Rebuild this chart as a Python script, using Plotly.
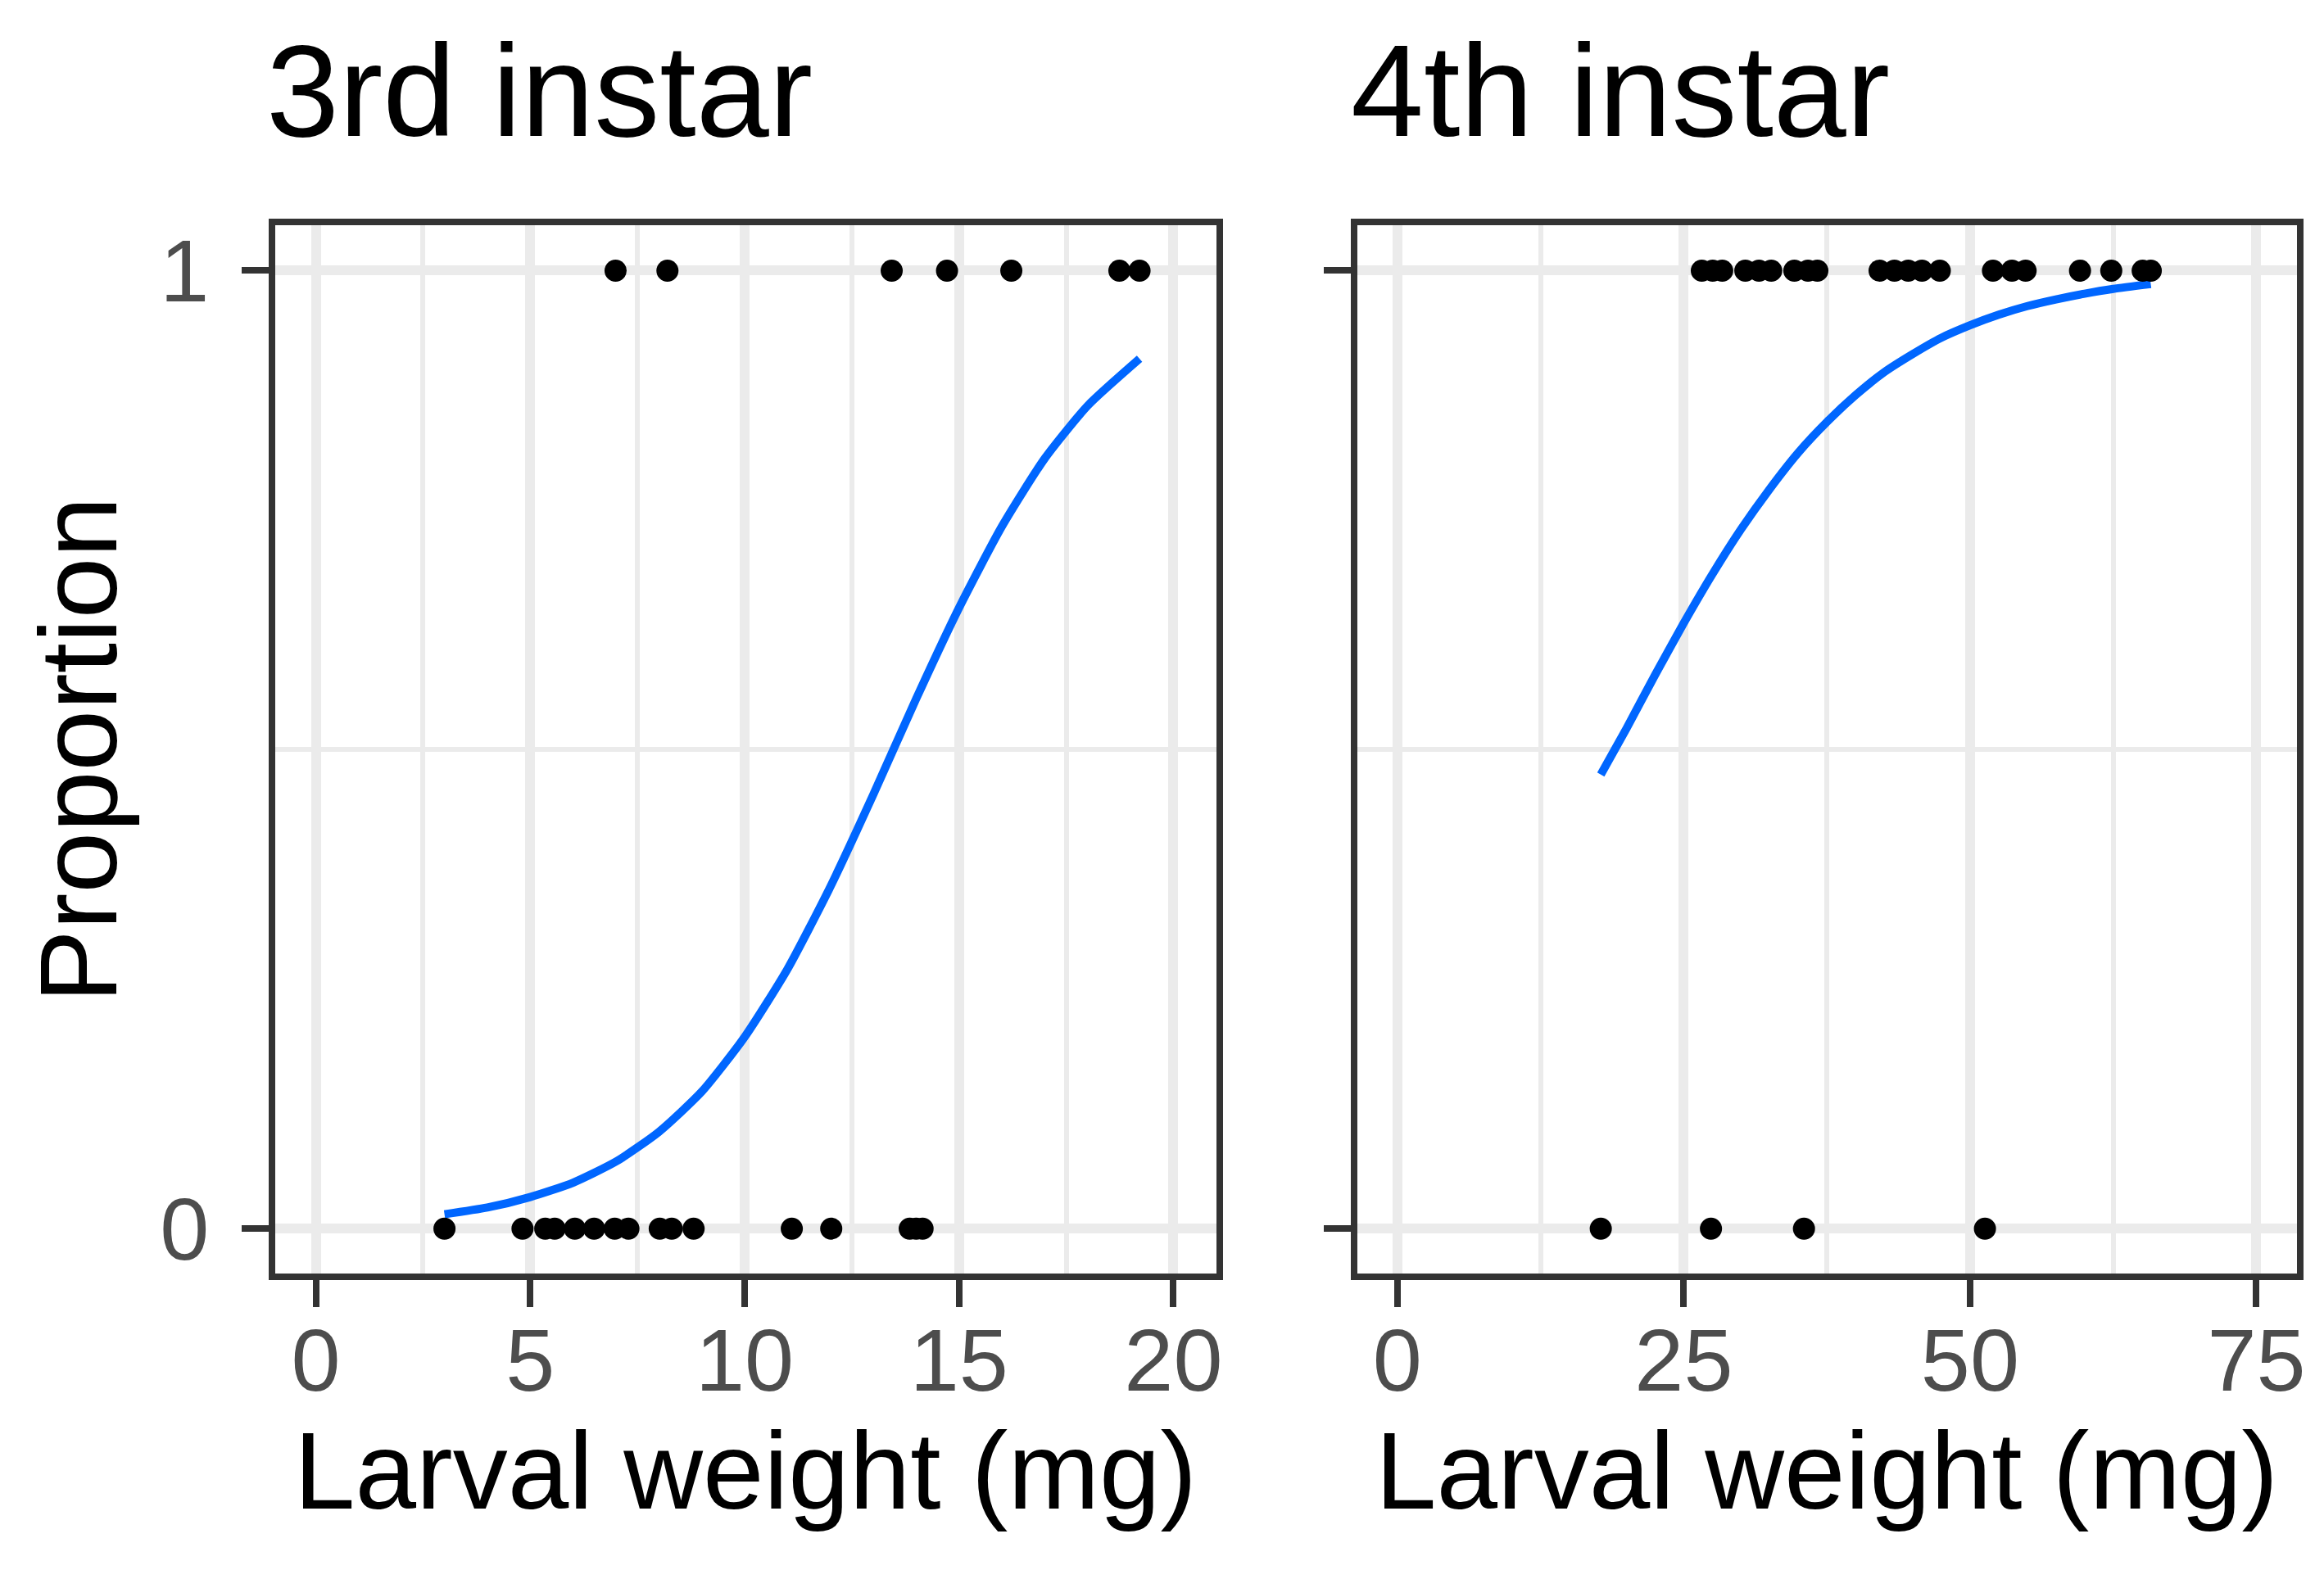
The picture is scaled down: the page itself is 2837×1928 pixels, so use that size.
import plotly.graph_objects as go

# ---- data ----
third_x_dead = [3.00, 4.82, 5.35, 5.57, 6.04, 6.49, 6.97, 7.29, 8.02, 8.30, 8.81,
                11.10, 12.02, 13.85, 14.00, 14.15]
third_x_alive = [6.99, 8.20, 13.43, 14.72, 16.22, 18.74, 19.21]
fourth_x_dead = [17.76, 27.38, 35.50, 51.30]
fourth_x_alive = [26.58, 27.53, 28.36, 30.38, 31.57, 32.64, 34.66, 35.85, 36.67,
                  42.10, 43.40, 44.60, 45.80, 47.36, 52.00, 53.66, 54.85, 59.60,
                  62.33, 65.07, 65.78]

third_curve_x = [3.0, 4, 5, 6, 7, 8, 9, 10, 11, 12, 13, 14, 15, 16, 17, 18, 19.21]
third_curve_y = [0.015, 0.022, 0.033, 0.048, 0.070, 0.101, 0.143, 0.200, 0.271,
                 0.357, 0.453, 0.553, 0.648, 0.733, 0.804, 0.859, 0.908]
fourth_curve_x = [17.76, 20, 22.5, 25, 27.5, 30, 32.5, 35, 37.5, 40, 42.5, 45,
                  47.5, 50, 52.5, 55, 57.5, 60, 62.5, 65.78]
fourth_curve_y = [0.474, 0.522, 0.578, 0.632, 0.683, 0.730, 0.772, 0.810, 0.842,
                  0.870, 0.894, 0.913, 0.930, 0.943, 0.954, 0.963, 0.970, 0.976,
                  0.981, 0.986]

panel_titles = ["3rd instar", "4th instar"]
x_title = "Larval weight (mg)"
y_title = "Proportion"

W, H = 2837, 1928
FONT = "Liberation Sans, Arial, sans-serif"
GRID = "#EBEBEB"
DARK = "#333333"
BLUE = "#0066FF"

fig = go.Figure()

def add_panel(xa, ya, xd, xa1, cx, cy):
    fig.add_trace(go.Scatter(x=cx, y=cy, mode="lines", xaxis=xa, yaxis=ya,
                             line=dict(color=BLUE, width=10, shape="spline", smoothing=0.6),
                             hoverinfo="skip"))
    fig.add_trace(go.Scatter(x=xd, y=[0] * len(xd), mode="markers", xaxis=xa, yaxis=ya,
                             marker=dict(color="black", size=27, line=dict(width=0))))
    fig.add_trace(go.Scatter(x=xa1, y=[1] * len(xa1), mode="markers", xaxis=xa, yaxis=ya,
                             marker=dict(color="black", size=27, line=dict(width=0))))

add_panel("x", "y", third_x_dead, third_x_alive, third_curve_x, third_curve_y)
add_panel("x2", "y2", fourth_x_dead, fourth_x_alive, fourth_curve_x, fourth_curve_y)

ydom = [1 - 1551 / H, 1 - 264 / H]

common_x = dict(showline=True, mirror=True, linecolor=DARK, linewidth=8,
                ticks="outside", ticklen=33, tickwidth=8, tickcolor=DARK,
                tickfont=dict(family=FONT, size=108, color="#4D4D4D"),
                showgrid=True, gridcolor=GRID, gridwidth=12, zeroline=False,
                ticklabelstandoff=-28)
common_y = dict(showline=True, mirror=True, linecolor=DARK, linewidth=8,
                ticks="outside", ticklen=33, tickwidth=8, tickcolor=DARK,
                tickfont=dict(family=FONT, size=108, color="#4D4D4D"),
                showgrid=True, gridcolor=GRID, gridwidth=12, zeroline=False,
                range=[-0.047, 1.047], tickmode="array", tickvals=[0, 1],
                ticktext=["0", "1"], domain=ydom,
                minor=dict(tickvals=[0.5], showgrid=True, gridcolor=GRID, gridwidth=6, ticks=""))

fig.update_layout(
    width=W, height=H, margin=dict(l=0, r=0, t=0, b=0),
    paper_bgcolor="white", plot_bgcolor="white", showlegend=False,
    xaxis=dict(common_x, domain=[329 / W, 1482 / W], range=[-0.95, 21.0],
               tickmode="array", tickvals=[0, 5, 10, 15, 20],
               minor=dict(tickvals=[2.5, 7.5, 12.5, 17.5], showgrid=True,
                          gridcolor=GRID, gridwidth=6, ticks=""),
               anchor="y"),
    yaxis=dict(common_y, anchor="x", ticklabelstandoff=18),
    xaxis2=dict(common_x, domain=[1655 / W, 2806 / W], range=[-3.48, 78.55],
                tickmode="array", tickvals=[0, 25, 50, 75],
                minor=dict(tickvals=[12.5, 37.5, 62.5], showgrid=True,
                           gridcolor=GRID, gridwidth=6, ticks=""),
                anchor="y2"),
    yaxis2=dict(common_y, anchor="x2", showticklabels=False),
)

ann = []
ann.append(dict(text=panel_titles[0], x=316 / W, y=1 - 98 / H, xref="paper", yref="paper",
                xanchor="left", yanchor="middle", showarrow=False,
                font=dict(family=FONT, size=160, color="black")))
ann.append(dict(text=panel_titles[1], x=1645 / W, y=1 - 98 / H, xref="paper", yref="paper",
                xanchor="left", yanchor="middle", showarrow=False,
                font=dict(family=FONT, size=160, color="black")))
for cx in [905, 2230]:
    ann.append(dict(text=x_title, x=cx / W, y=1 - 1793 / H, xref="paper", yref="paper",
                    xanchor="center", yanchor="middle", showarrow=False,
                    font=dict(family=FONT, size=134, color="black")))
ann.append(dict(text=y_title, x=88 / W, y=1 - 908 / H, xref="paper", yref="paper",
                xanchor="center", yanchor="middle", showarrow=False, textangle=-90,
                font=dict(family=FONT, size=134, color="black")))
fig.update_layout(annotations=ann)

fig.write_html("out.html")
